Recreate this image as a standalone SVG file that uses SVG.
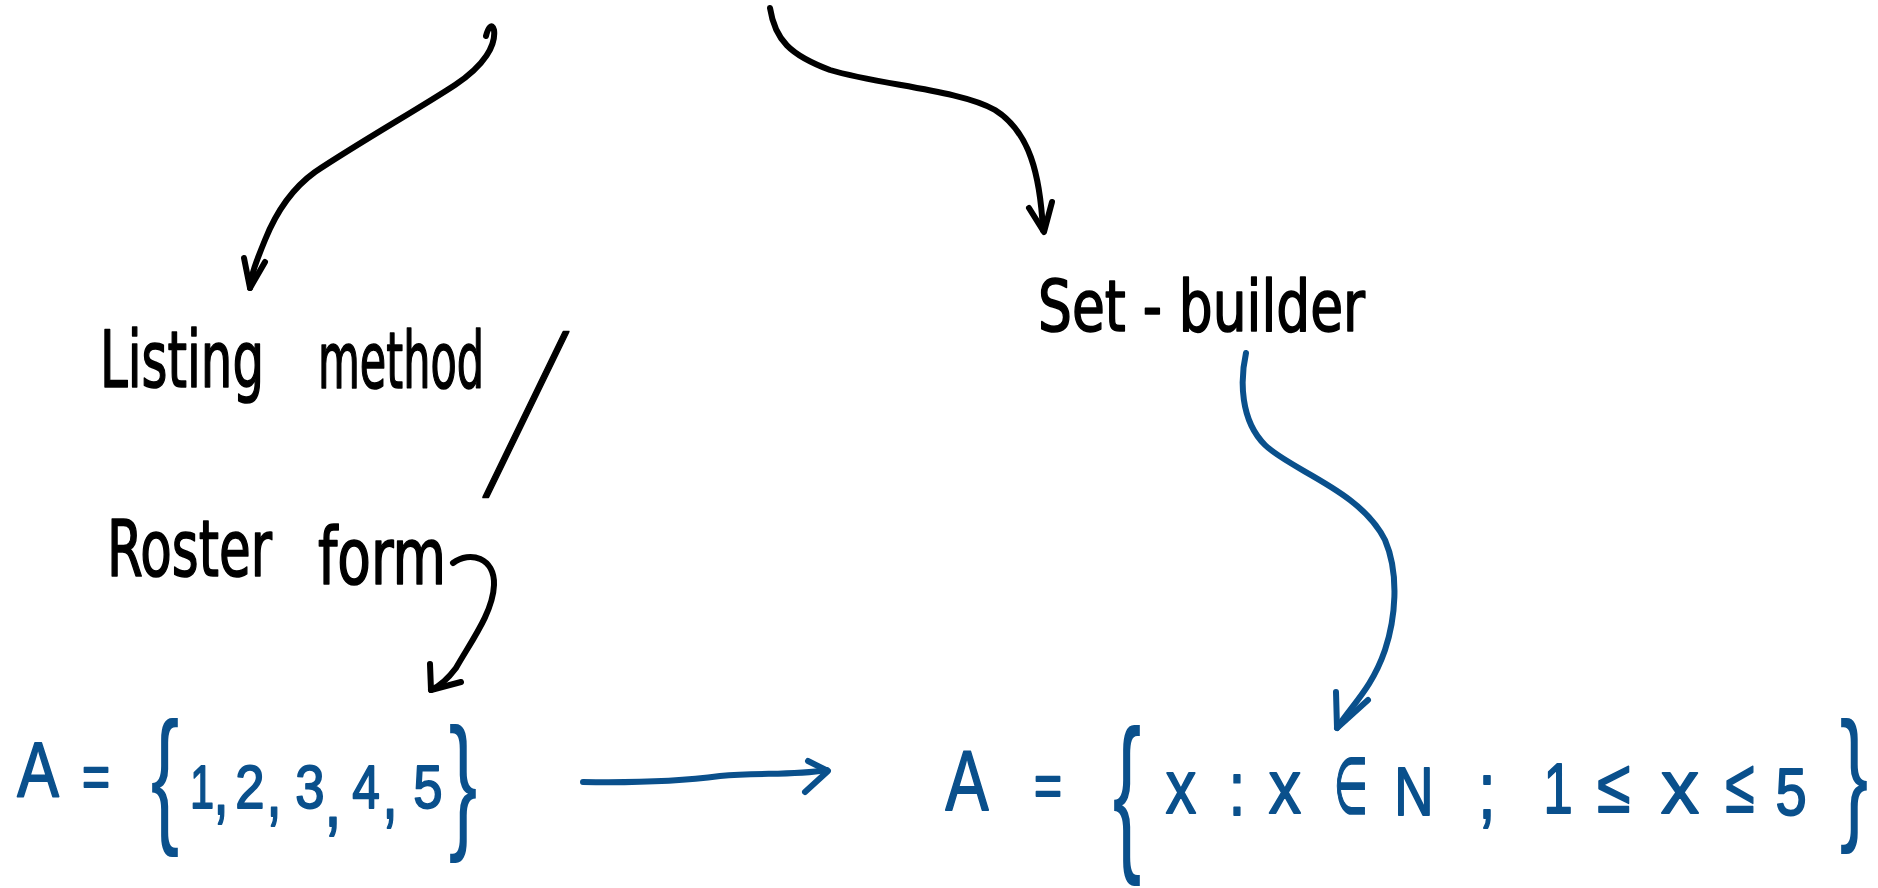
<svg xmlns="http://www.w3.org/2000/svg" width="1878" height="888" viewBox="0 0 1878 888">
<style>
.lbl{font-family:"Liberation Sans Narrow","DejaVu Sans Condensed","Liberation Sans",sans-serif;fill:#000;stroke:#000;stroke-width:1.6;stroke-linejoin:round}
.eq{font-family:"Liberation Sans Narrow","Liberation Sans","DejaVu Sans",sans-serif;fill:#0a508c;stroke:#0a508c;stroke-width:1.8;stroke-linejoin:round;text-anchor:middle}
.br{font-family:"Liberation Sans","DejaVu Sans",sans-serif;fill:#0a508c;text-anchor:middle;font-size:95px}
.ink{fill:none;stroke:#000;stroke-width:6;stroke-linecap:round;stroke-linejoin:round}
.blue{fill:none;stroke:#0a508c;stroke-width:6;stroke-linecap:round;stroke-linejoin:round}
</style>
<rect width="1878" height="888" fill="#fff"/>
<g id="connectors">
  <path class="ink" d="M486,36 C488,28 492,22 494,30 C496,45 485,65 455,85 C420,108 360,142 315,172 C290,190 275,215 265,240 C256,262 251,275 250,288"/>
  <path class="ink" d="M244,258 L250,288 L265,262"/>
  <path class="ink" d="M770,8 C775,40 790,55 830,70 C880,85 960,90 995,110 C1030,132 1040,175 1043,230"/>
  <path class="ink" d="M1029,208 L1044,232 L1052,202"/>
  <path class="ink" d="M453,563 C470,550 495,558 494,585 C493,612 472,640 456,668 C447,680 440,686 431,690"/>
  <path class="ink" d="M430,664 L431,690 L461,682"/>
  <path class="blue" d="M583,782 C640,783 690,780 720,776 C760,772 790,776 827,770"/>
  <path class="blue" d="M808,761 L828,771 L805,792"/>
  <path class="blue" d="M1246,353 C1240,380 1240,420 1265,445 C1290,470 1360,490 1385,540 C1400,575 1395,620 1385,650 C1372,688 1352,705 1337,728"/>
  <path class="blue" d="M1336,692 L1337,728 L1368,700"/>
</g>
<g id="listing-method">
  <text class="lbl" x="100" y="387" font-size="78" textLength="164" lengthAdjust="spacingAndGlyphs">Listing</text>
  <text class="lbl" x="318" y="388" font-size="78" textLength="166" lengthAdjust="spacingAndGlyphs">method</text>
  <text class="lbl" font-size="100" transform="translate(490,478) skewX(-20.5) scale(0.8,2)">/</text>
</g>
<g id="roster-form">
  <text class="lbl" x="107" y="576" font-size="78" textLength="165" lengthAdjust="spacingAndGlyphs">Roster</text>
  <text class="lbl" x="318" y="584" font-size="78" textLength="128" lengthAdjust="spacingAndGlyphs">form</text>
</g>
<g id="set-builder">
  <text class="lbl" x="1038" y="331" font-size="72" textLength="327" lengthAdjust="spacingAndGlyphs">Set - builder</text>
</g>
<g id="roster-equation">
  <text class="eq" transform="translate(38,797) scale(0.8,1)" font-size="78">A</text>
  <text class="eq" transform="translate(96,797) scale(0.8,1)" font-size="60">=</text>
  <text class="eq" transform="translate(202,808) scale(0.7,1)" font-size="62">1</text>
  <text class="eq" transform="translate(221,814) scale(0.7,1)" font-size="80">,</text>
  <text class="eq" transform="translate(250,808) scale(0.85,1)" font-size="62">2</text>
  <text class="eq" transform="translate(274,816) scale(0.7,1)" font-size="80">,</text>
  <text class="eq" transform="translate(310,808) scale(0.85,1)" font-size="62">3</text>
  <text class="eq" transform="translate(333,826) scale(0.8,1)" font-size="80">,</text>
  <text class="eq" transform="translate(366,808) scale(0.8,1)" font-size="62">4</text>
  <text class="eq" transform="translate(390,818) scale(0.7,1)" font-size="80">,</text>
  <text class="eq" transform="translate(428,808) scale(0.85,1)" font-size="62">5</text>
  <text class="br" transform="translate(165,826) scale(0.9,1.57)">{</text>
  <text class="br" transform="translate(463,832) scale(0.9,1.56)">}</text>
</g>
<g id="setbuilder-equation">
  <text class="eq" transform="translate(967,810) scale(0.75,1)" font-size="86">A</text>
  <text class="eq" transform="translate(1048,806) scale(0.8,1)" font-size="60">=</text>
  <text class="eq" transform="translate(1181,813) scale(0.8,1)" font-size="76">x</text>
  <text class="eq" transform="translate(1237,815) scale(0.8,1)" font-size="76">:</text>
  <text class="eq" transform="translate(1285,813) scale(0.85,1)" font-size="76">x</text>
  <text class="eq" transform="translate(1351,813) scale(0.5,1)" font-size="78">∈</text>
  <text class="eq" transform="translate(1414,815) scale(0.8,1)" font-size="68">N</text>
  <text class="eq" transform="translate(1487,818) scale(0.8,1)" font-size="80">;</text>
  <text class="eq" transform="translate(1558,813) scale(0.75,1)" font-size="70">1</text>
  <text class="eq" transform="translate(1614,812) scale(0.8,1)" font-size="76">≤</text>
  <text class="eq" transform="translate(1680,813) scale(1,1)" font-size="76">x</text>
  <text class="eq" transform="translate(1740,812) scale(0.7,1)" font-size="76">≤</text>
  <text class="eq" transform="translate(1791,815) scale(0.85,1)" font-size="66">5</text>
  <text class="br" transform="translate(1127,850) scale(0.9,1.81)">{</text>
  <text class="br" transform="translate(1854,824) scale(0.9,1.55)">}</text>
</g>
</svg>
